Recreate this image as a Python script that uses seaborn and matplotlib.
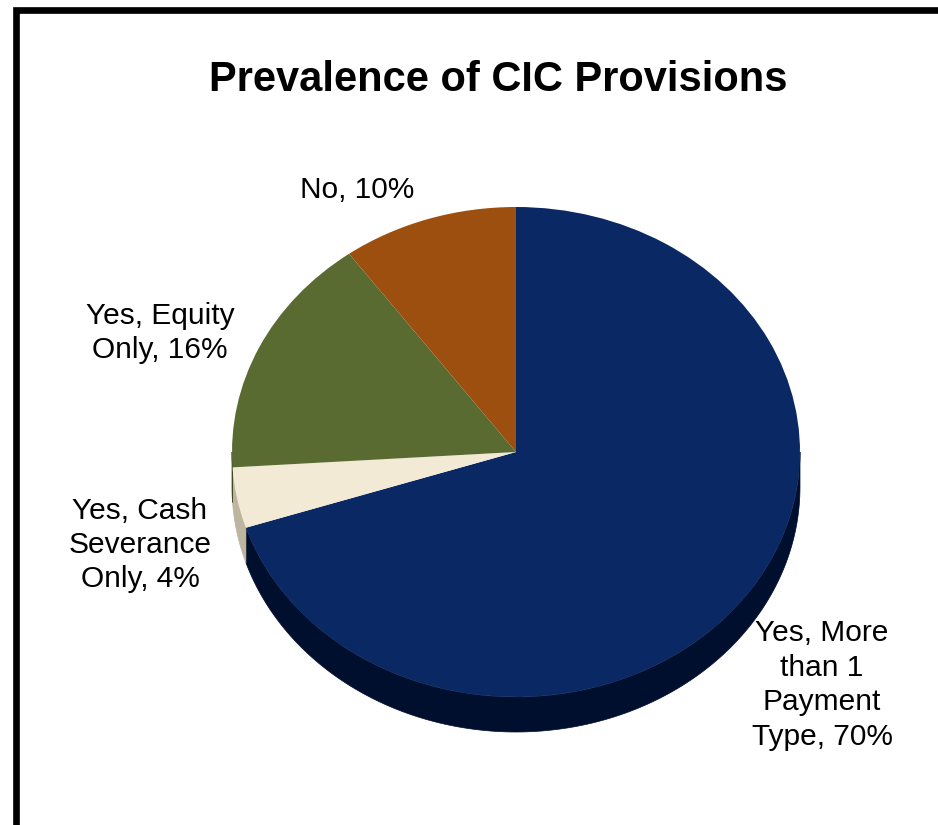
import numpy as np
import matplotlib
matplotlib.use("Agg")
import matplotlib.pyplot as plt
from matplotlib.patches import Rectangle, Polygon
import seaborn as sns

# Survey data: share of companies by type of change-in-control provision
categories = ["Yes, More\nthan 1\nPayment\nType", "Yes, Cash\nSeverance\nOnly",
              "Yes, Equity\nOnly", "No"]
shares = [70, 4, 16, 10]
top_colors = ["#0a2863", "#f2ead5", "#5a6b32", "#9c4f0e"]
side_colors = ["#000f2e", "#bdb59f", "#3e4a22", "#6c360a"]

sns.set_theme(style="white")
plt.rcParams["font.family"] = ["Liberation Sans", "DejaVu Sans"]

W, H, DPI = 938, 825, 100
fig = plt.figure(figsize=(W / DPI, H / DPI), dpi=DPI)
fig.patch.set_facecolor("white")

# pie geometry in pixel space
cx, cy, rx, ry, depth_px = 516, 452, 284, 245, 35
ax = fig.add_axes([0, 0, 1, 1])
depth = depth_px / ry

# wedge angle ranges (clockwise from 12 o'clock)
fracs = np.array(shares, dtype=float) / sum(shares)
ends = 90 - 360 * np.cumsum(fracs)
starts = np.concatenate([[90], ends[:-1]])

# side wall: visible for angles in the lower half of the ellipse
for s, e, col in zip(starts, ends, side_colors):
    lo, hi = min(s, e), max(s, e)
    for shift in (0, 360, -360):
        a0, a1 = max(lo + shift, 180), min(hi + shift, 360)
        if a1 > a0:
            t = np.radians(np.linspace(a0, a1, 200))
            xs, ys = np.cos(t), np.sin(t)
            pts = np.concatenate([np.column_stack([xs, ys]),
                                  np.column_stack([xs[::-1], ys[::-1] - depth])])
            ax.add_patch(Polygon(pts, closed=True, facecolor=col,
                                 edgecolor=col, lw=0.5, zorder=1))

wedges, _ = ax.pie(shares, colors=top_colors, startangle=90, counterclock=False,
                   radius=1, center=(0, 0), frame=True,
                   wedgeprops=dict(linewidth=0))
for w in wedges:
    w.set_zorder(2)
ax.set_xlim(-cx / rx, (W - cx) / rx)
ax.set_ylim((cy - H) / ry, cy / ry)
ax.set_aspect("auto")
ax.axis("off")

# slice labels
label_pos = {
    "No": (357, 190),
    "Yes, Equity\nOnly": (160, 333),
    "Yes, Cash\nSeverance\nOnly": (140, 545),
    "Yes, More\nthan 1\nPayment\nType": (822, 685),
}
for cat, val in zip(categories, shares):
    px, py = label_pos[cat]
    ax.text((px - cx) / rx, (cy - py) / ry, f"{cat}, {val}%", ha="center",
            va="center", fontsize=21.5, color="black", linespacing=1.29,
            zorder=5)

fig.text(498 / W, 1 - 80 / H, "Prevalence of CIC Provisions", ha="center",
         va="center", fontsize=30, fontweight="bold", color="black")

# outer frame running off the right and bottom edges
fig.patches.append(Rectangle((16 / W, -0.1), 1.2, (H - 10.5) / H + 0.1,
                             transform=fig.transFigure, fill=False,
                             edgecolor="black", linewidth=4.8))

fig.savefig("out.png", dpi=DPI, facecolor="white")
